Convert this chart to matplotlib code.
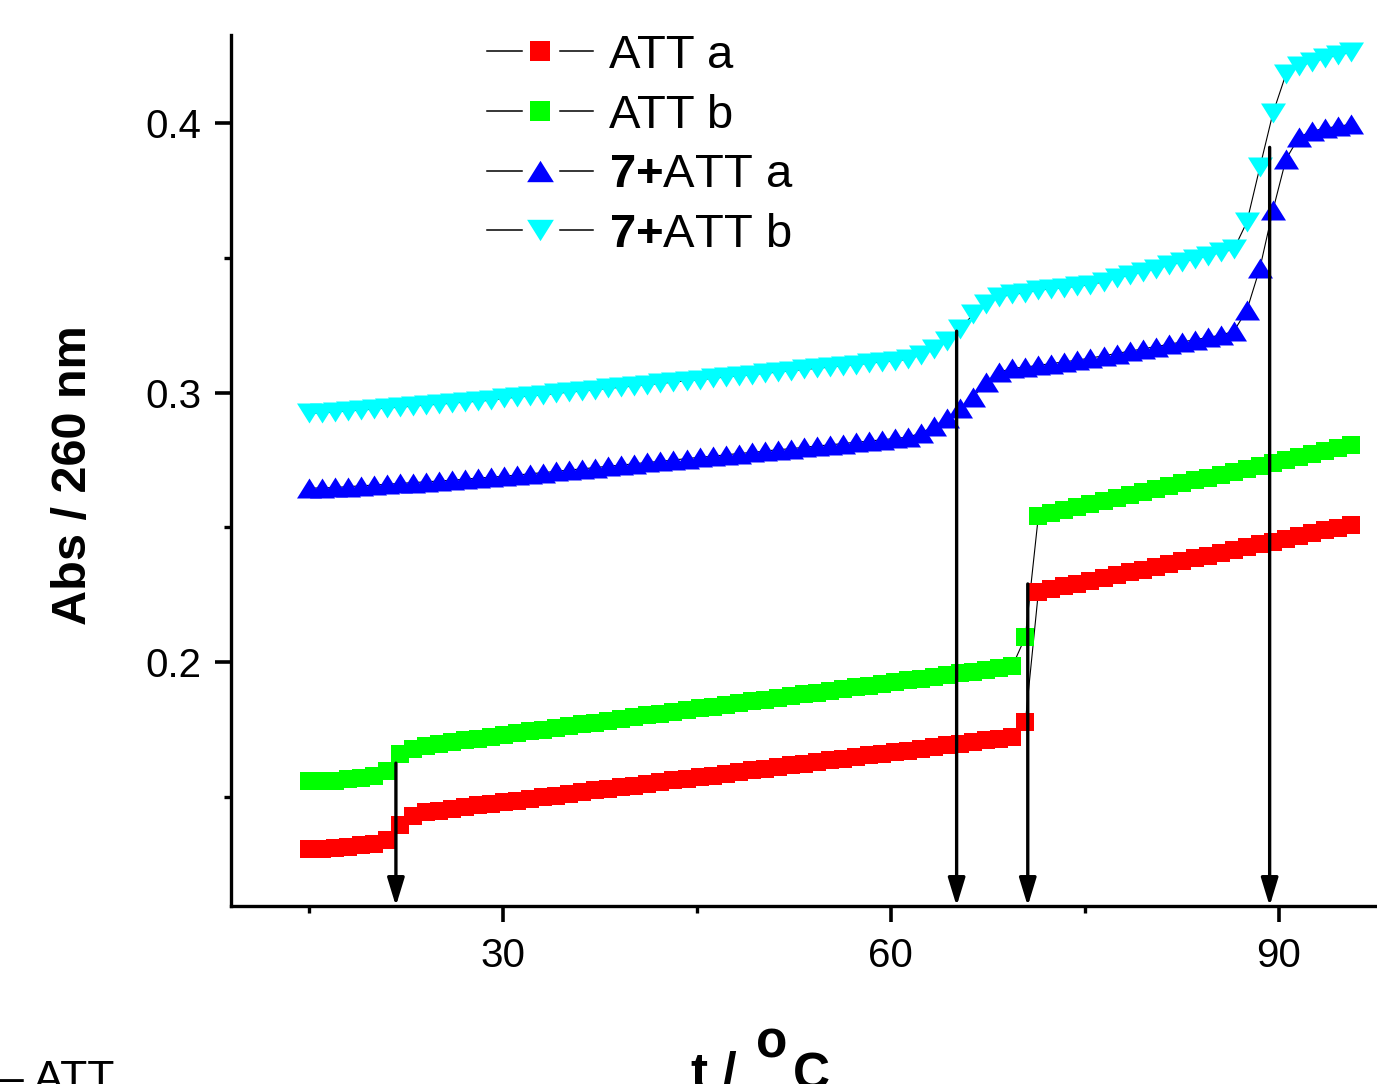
import numpy as np
import matplotlib
matplotlib.use("Agg")
import matplotlib.pyplot as plt
from matplotlib.lines import Line2D
from matplotlib.legend_handler import HandlerBase

plt.rcParams['font.family'] = ['Liberation Sans', 'DejaVu Sans']
plt.rcParams['mathtext.fontset'] = 'custom'
plt.rcParams['mathtext.rm'] = 'Liberation Sans'
plt.rcParams['mathtext.bf'] = 'Liberation Sans:bold'

# ---- data -------------------------------------------------------------
temperature = np.linspace(15.0, 95.6, 81)   # deg C, one reading per ~1 deg

att_a = [
    0.1305, 0.1305, 0.1310, 0.1315, 0.1320, 0.1325, 0.1340, 0.1395, 0.1430, 0.1443,
    0.1449, 0.1455, 0.1462, 0.1468, 0.1474, 0.1480, 0.1486, 0.1493, 0.1499, 0.1505,
    0.1511, 0.1517, 0.1524, 0.1530, 0.1536, 0.1542, 0.1548, 0.1555, 0.1561, 0.1567,
    0.1573, 0.1579, 0.1586, 0.1592, 0.1598, 0.1604, 0.1610, 0.1617, 0.1623, 0.1629,
    0.1635, 0.1641, 0.1648, 0.1654, 0.1660, 0.1666, 0.1672, 0.1679, 0.1685, 0.1691,
    0.1697, 0.1703, 0.1710, 0.1716, 0.1722, 0.1777, 0.2260, 0.2270, 0.2281, 0.2291,
    0.2302, 0.2312, 0.2322, 0.2333, 0.2343, 0.2354, 0.2364, 0.2374, 0.2385, 0.2395,
    0.2406, 0.2416, 0.2426, 0.2437, 0.2447, 0.2458, 0.2468, 0.2478, 0.2489, 0.2499,
    0.2510,
]

att_b = [
    0.1558, 0.1558, 0.1560, 0.1565, 0.1570, 0.1577, 0.1596, 0.1660, 0.1677, 0.1690,
    0.1697, 0.1703, 0.1710, 0.1716, 0.1723, 0.1729, 0.1736, 0.1743, 0.1749, 0.1756,
    0.1762, 0.1769, 0.1775, 0.1782, 0.1788, 0.1795, 0.1802, 0.1808, 0.1815, 0.1821,
    0.1828, 0.1834, 0.1841, 0.1847, 0.1854, 0.1861, 0.1867, 0.1874, 0.1880, 0.1887,
    0.1893, 0.1900, 0.1906, 0.1913, 0.1920, 0.1926, 0.1933, 0.1939, 0.1946, 0.1952,
    0.1959, 0.1965, 0.1972, 0.1979, 0.1985, 0.2093, 0.2542, 0.2553, 0.2564, 0.2575,
    0.2586, 0.2597, 0.2608, 0.2619, 0.2630, 0.2641, 0.2652, 0.2663, 0.2674, 0.2684,
    0.2695, 0.2706, 0.2717, 0.2728, 0.2739, 0.2750, 0.2761, 0.2772, 0.2783, 0.2794,
    0.2805,
]

cpd7_att_a = [
    0.2646, 0.2646, 0.2648, 0.2651, 0.2654, 0.2657, 0.2660, 0.2663, 0.2666, 0.2669,
    0.2672, 0.2675, 0.2679, 0.2683, 0.2686, 0.2690, 0.2694, 0.2699, 0.2703, 0.2708,
    0.2713, 0.2717, 0.2722, 0.2727, 0.2731, 0.2736, 0.2741, 0.2745, 0.2750, 0.2755,
    0.2760, 0.2764, 0.2769, 0.2774, 0.2778, 0.2783, 0.2788, 0.2792, 0.2797, 0.2802,
    0.2806, 0.2811, 0.2816, 0.2820, 0.2825, 0.2830, 0.2835, 0.2850, 0.2876, 0.2905,
    0.2942, 0.2983, 0.3040, 0.3076, 0.3090, 0.3095, 0.3101, 0.3108, 0.3114, 0.3121,
    0.3128, 0.3137, 0.3145, 0.3154, 0.3162, 0.3171, 0.3179, 0.3188, 0.3196, 0.3205,
    0.3213, 0.3228, 0.3306, 0.3462, 0.3677, 0.3866, 0.3948, 0.3970, 0.3981, 0.3988,
    0.3996,
]

cpd7_att_b = [
    0.2924, 0.2925, 0.2928, 0.2932, 0.2935, 0.2939, 0.2943, 0.2946, 0.2950, 0.2954,
    0.2957, 0.2961, 0.2965, 0.2968, 0.2972, 0.2979, 0.2983, 0.2988, 0.2992, 0.2997,
    0.3002, 0.3006, 0.3011, 0.3016, 0.3020, 0.3025, 0.3030, 0.3034, 0.3039, 0.3044,
    0.3048, 0.3053, 0.3058, 0.3062, 0.3067, 0.3072, 0.3076, 0.3081, 0.3086, 0.3090,
    0.3095, 0.3100, 0.3104, 0.3109, 0.3114, 0.3118, 0.3124, 0.3140, 0.3160, 0.3190,
    0.3236, 0.3291, 0.3330, 0.3354, 0.3365, 0.3370, 0.3380, 0.3385, 0.3390, 0.3395,
    0.3400, 0.3412, 0.3424, 0.3436, 0.3448, 0.3460, 0.3472, 0.3484, 0.3496, 0.3508,
    0.3520, 0.3532, 0.3633, 0.3837, 0.4037, 0.4182, 0.4212, 0.4226, 0.4241, 0.4252,
    0.4263,
]

series_labels = ["ATT a", "ATT b", r"$\mathbf{7{+}}$ATT a", r"$\mathbf{7{+}}$ATT b"]
series_colors = ["#ff0000", "#00ff00", "#0000ff", "#00ffff"]

# transition temperatures marked with arrows and the absorbance they start from
arrow_temps = [21.75, 65.1, 70.6, 89.3]
arrow_tops = [0.1625, 0.3228, 0.2290, 0.3910]

# ---- markers ------------------------------------------------------------
tri_up = [(-1.0, -0.8), (1.0, -0.8), (0.0, 0.8), (-1.0, -0.8)]
tri_down = [(-1.0, 0.8), (1.0, 0.8), (0.0, -0.8), (-1.0, 0.8)]
series_markers = ["s", "s", tri_up, tri_down]
series_ms = [13, 13, 18, 18]

W, H, DPI = 1377, 1084, 100
fig = plt.figure(figsize=(W / DPI, H / DPI), dpi=DPI)
ax = fig.add_axes([231 / W, 178 / H, 1146 / W, 871 / H])

series_values = [att_a, att_b, cpd7_att_a, cpd7_att_b]

# connecting lines first, markers on top
for vals in series_values:
    ax.plot(temperature, vals, color="black", lw=0.8, zorder=2)
handles = []
for vals, col, mk, ms, lab in zip(series_values, series_colors, series_markers,
                                  series_ms, series_labels):
    h, = ax.plot(temperature, vals, ls="none", marker=mk, ms=ms, mfc=col,
                 mec=col, mew=0, zorder=3, label=lab)
    handles.append(h)

ax.set_xlim(9.0, 97.6)
ax.set_ylim(0.1095, 0.4327)

for t, top in zip(arrow_temps, arrow_tops):
    ax.annotate("", xy=(t, 0.1095), xytext=(t, top),
                arrowprops=dict(arrowstyle="-|>,head_length=0.85,head_width=0.26",
                                color="black", lw=2.4, shrinkA=0, shrinkB=0,
                                mutation_scale=20),
                zorder=5, annotation_clip=False)

# ---- axes styling -------------------------------------------------------
for side in ("top", "right"):
    ax.spines[side].set_visible(False)
for side in ("left", "bottom"):
    ax.spines[side].set_linewidth(2.4)

ax.set_xticks([30, 60, 90])
ax.set_xticks([15, 45, 75], minor=True)
ax.set_yticks([0.2, 0.3, 0.4])
ax.set_yticks([0.15, 0.25, 0.35], minor=True)
ax.set_yticklabels(["0.2", "0.3", "0.4"])
ax.tick_params(which="major", direction="out", length=11.5, width=2.6,
               labelsize=29, pad=10)
ax.tick_params(axis="x", which="major", pad=11)
ax.tick_params(which="minor", direction="out", length=5, width=2.4)


class SplitLineHandler(HandlerBase):
    """Legend key: short line, marker, short line."""

    def create_artists(self, legend, orig_handle, xdescent, ydescent,
                       width, height, fontsize, trans):
        y = height / 2 - ydescent
        x0 = -xdescent
        left = Line2D([x0, x0 + 0.33 * width], [y, y], color="black", lw=1.1,
                      transform=trans)
        right = Line2D([x0 + 0.69 * width, x0 + width], [y, y], color="black",
                       lw=1.1, transform=trans)
        ms = orig_handle.get_markersize() * 1.07
        mk = Line2D([x0 + 0.5 * width], [y], ls="none",
                    marker=orig_handle.get_marker(), ms=ms,
                    mfc=orig_handle.get_markerfacecolor(), mew=0,
                    transform=trans)
        return [left, right, mk]


leg = fig.legend(handles=handles, labels=series_labels,
                 handler_map={h: SplitLineHandler() for h in handles},
                 loc="upper left", bbox_to_anchor=(487 / W, 1 - 34 / H),
                 frameon=False, fontsize=34, handlelength=2.25,
                 handletextpad=0.33, labelspacing=0.33, borderpad=0,
                 borderaxespad=0)

# axis titles
fig.text(74 / W, 1 - 475 / H, "Abs / 260 nm", rotation=90, fontsize=35,
         fontweight="bold", ha="center", va="center")
fig.text(691 / W, 1 - 1089 / H, "t /", fontsize=37, fontweight="bold",
         ha="left", va="baseline")
fig.text(756 / W, 1 - 1058 / H, "o", fontsize=37, fontweight="bold",
         ha="left", va="baseline")
fig.text(793 / W, 1 - 1089 / H, "C", fontsize=37, fontweight="bold",
         ha="left", va="baseline")
fig.text(-1 / W, 1 - 1092 / H, "\u2013 ATT", fontsize=32,
         ha="left", va="baseline")

fig.savefig("out.png", dpi=DPI)
